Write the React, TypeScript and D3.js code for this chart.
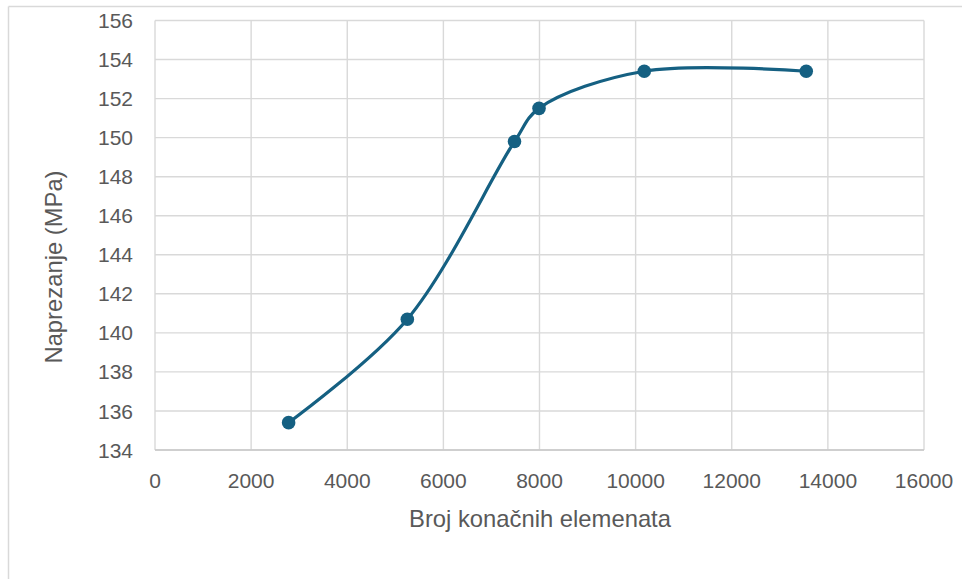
import React from "react";
import * as d3 from "d3";

const xValues = [2780, 5250, 7480, 7990, 10180, 13550];
const yValues = [135.4, 140.7, 149.8, 151.5, 153.4, 153.4];
const xTicks = [0, 2000, 4000, 6000, 8000, 10000, 12000, 14000, 16000];
const yTicks = [134, 136, 138, 140, 142, 144, 146, 148, 150, 152, 154, 156];
const xTitle = "Broj konačnih elemenata";
const yTitle = "Naprezanje (MPa)";

const W = 962;
const H = 579;
const plot = { left: 155, right: 924, top: 20.5, bottom: 450 };
const FONT = "'Liberation Sans', Arial, sans-serif";
const TEXT = "#595959";
const GRID = "#d9d9d9";
const LINE = "#156082";

export default function App() {
  const x = d3.scaleLinear().domain([0, 16000]).range([plot.left, plot.right]);
  const y = d3.scaleLinear().domain([134, 156]).range([plot.bottom, plot.top]);
  const pts: [number, number][] = xValues.map((v, i) => [v, yValues[i]]);
  const line = d3
    .line<[number, number]>()
    .x((d) => x(d[0]))
    .y((d) => y(d[1]))
    .curve(d3.curveCatmullRom.alpha(0.5));

  return (
    <svg
      width={W}
      height={H}
      style={{ position: "absolute", left: 0, top: 0, background: "#fff" }}
    >
      <line x1={8.5} y1={6.5} x2={W} y2={6.5} stroke={GRID} strokeWidth={1.5} />
      <line x1={8.5} y1={6.5} x2={8.5} y2={H} stroke={GRID} strokeWidth={1.5} />
      {yTicks.map((t) => (
        <line
          key={"gy" + t}
          x1={plot.left}
          x2={plot.right}
          y1={y(t)}
          y2={y(t)}
          stroke={GRID}
          strokeWidth={1.4}
        />
      ))}
      {xTicks.map((t) => (
        <line
          key={"gx" + t}
          x1={x(t)}
          x2={x(t)}
          y1={plot.top}
          y2={plot.bottom}
          stroke={GRID}
          strokeWidth={1.4}
        />
      ))}
      <line
        x1={plot.left}
        x2={plot.right}
        y1={plot.bottom}
        y2={plot.bottom}
        stroke="#c8c8c8"
        strokeWidth={1.5}
      />
      {yTicks.map((t) => (
        <text
          key={"ty" + t}
          x={133}
          y={y(t)}
          dy="0.36em"
          textAnchor="end"
          fontFamily={FONT}
          fontSize={21}
          fill={TEXT}
        >
          {t}
        </text>
      ))}
      {xTicks.map((t) => (
        <text
          key={"tx" + t}
          x={x(t)}
          y={488}
          textAnchor="middle"
          fontFamily={FONT}
          fontSize={21}
          fill={TEXT}
        >
          {t}
        </text>
      ))}
      <text
        x={540}
        y={527}
        textAnchor="middle"
        fontFamily={FONT}
        fontSize={23.8}
        fill={TEXT}
      >
        {xTitle}
      </text>
      <text
        transform="translate(62,267) rotate(-90)"
        textAnchor="middle"
        fontFamily={FONT}
        fontSize={23.8}
        fill={TEXT}
      >
        {yTitle}
      </text>
      <path d={line(pts) || ""} fill="none" stroke={LINE} strokeWidth={3.2} strokeLinecap="round" />
      {pts.map((p, i) => (
        <circle key={"m" + i} cx={x(p[0])} cy={y(p[1])} r={6.8} fill={LINE} />
      ))}
    </svg>
  );
}
